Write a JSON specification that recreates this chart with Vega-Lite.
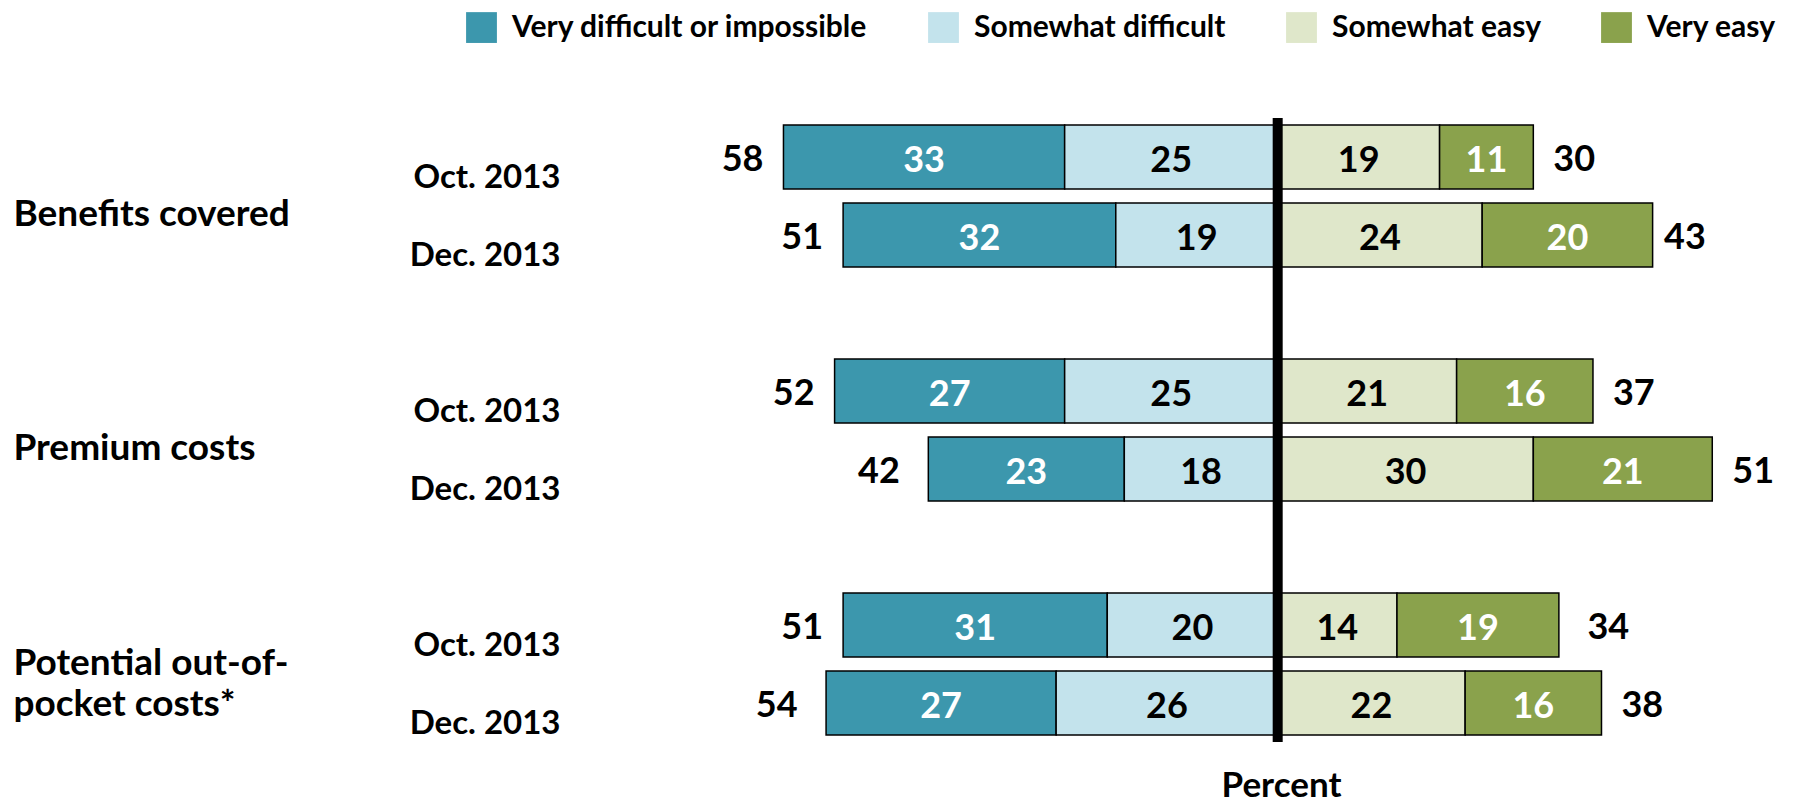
{
  "$schema": "https://vega.github.io/schema/vega-lite/v6.json",
  "width": 1210,
  "height": 624,
  "autosize": {"type": "none"},
  "padding": {"left": 596, "top": 118, "right": 13, "bottom": 61},
  "background": "white",
  "config": {
    "font": "Lato",
    "view": {"stroke": null},
    "axis": {"disable": false, "grid": false}
  },
  "datasets": {
    "segments": [
      {"category": "Benefits covered", "period": "Oct. 2013", "level": "Very difficult or impossible", "pct": 33},
      {"category": "Benefits covered", "period": "Oct. 2013", "level": "Somewhat difficult", "pct": 25},
      {"category": "Benefits covered", "period": "Oct. 2013", "level": "Somewhat easy", "pct": 19},
      {"category": "Benefits covered", "period": "Oct. 2013", "level": "Very easy", "pct": 11},
      {"category": "Benefits covered", "period": "Dec. 2013", "level": "Very difficult or impossible", "pct": 32},
      {"category": "Benefits covered", "period": "Dec. 2013", "level": "Somewhat difficult", "pct": 19},
      {"category": "Benefits covered", "period": "Dec. 2013", "level": "Somewhat easy", "pct": 24},
      {"category": "Benefits covered", "period": "Dec. 2013", "level": "Very easy", "pct": 20},
      {"category": "Premium costs", "period": "Oct. 2013", "level": "Very difficult or impossible", "pct": 27},
      {"category": "Premium costs", "period": "Oct. 2013", "level": "Somewhat difficult", "pct": 25},
      {"category": "Premium costs", "period": "Oct. 2013", "level": "Somewhat easy", "pct": 21},
      {"category": "Premium costs", "period": "Oct. 2013", "level": "Very easy", "pct": 16},
      {"category": "Premium costs", "period": "Dec. 2013", "level": "Very difficult or impossible", "pct": 23},
      {"category": "Premium costs", "period": "Dec. 2013", "level": "Somewhat difficult", "pct": 18},
      {"category": "Premium costs", "period": "Dec. 2013", "level": "Somewhat easy", "pct": 30},
      {"category": "Premium costs", "period": "Dec. 2013", "level": "Very easy", "pct": 21},
      {"category": "Potential out-of-pocket costs*", "period": "Oct. 2013", "level": "Very difficult or impossible", "pct": 31},
      {"category": "Potential out-of-pocket costs*", "period": "Oct. 2013", "level": "Somewhat difficult", "pct": 20},
      {"category": "Potential out-of-pocket costs*", "period": "Oct. 2013", "level": "Somewhat easy", "pct": 14},
      {"category": "Potential out-of-pocket costs*", "period": "Oct. 2013", "level": "Very easy", "pct": 19},
      {"category": "Potential out-of-pocket costs*", "period": "Dec. 2013", "level": "Very difficult or impossible", "pct": 27},
      {"category": "Potential out-of-pocket costs*", "period": "Dec. 2013", "level": "Somewhat difficult", "pct": 26},
      {"category": "Potential out-of-pocket costs*", "period": "Dec. 2013", "level": "Somewhat easy", "pct": 22},
      {"category": "Potential out-of-pocket costs*", "period": "Dec. 2013", "level": "Very easy", "pct": 16}
    ],
    "totals": [
      {"category": "Benefits covered", "period": "Oct. 2013", "side": "difficult", "total": 58},
      {"category": "Benefits covered", "period": "Oct. 2013", "side": "easy", "total": 30},
      {"category": "Benefits covered", "period": "Dec. 2013", "side": "difficult", "total": 51},
      {"category": "Benefits covered", "period": "Dec. 2013", "side": "easy", "total": 43},
      {"category": "Premium costs", "period": "Oct. 2013", "side": "difficult", "total": 52},
      {"category": "Premium costs", "period": "Oct. 2013", "side": "easy", "total": 37},
      {"category": "Premium costs", "period": "Dec. 2013", "side": "difficult", "total": 42},
      {"category": "Premium costs", "period": "Dec. 2013", "side": "easy", "total": 51},
      {"category": "Potential out-of-pocket costs*", "period": "Oct. 2013", "side": "difficult", "total": 51},
      {"category": "Potential out-of-pocket costs*", "period": "Oct. 2013", "side": "easy", "total": 34},
      {"category": "Potential out-of-pocket costs*", "period": "Dec. 2013", "side": "difficult", "total": 54},
      {"category": "Potential out-of-pocket costs*", "period": "Dec. 2013", "side": "easy", "total": 38}
    ]
  },
  "data": {"name": "segments"},
  "transform": [
    {"calculate": "datum.category + '|' + datum.period", "as": "row"},
    {"calculate": "indexof(datum.level, 'difficult') >= 0 ? -datum.pct : datum.pct", "as": "signed"},
    {"stack": "signed", "groupby": ["row"], "sort": [{"field": "level", "order": "ascending"}], "as": ["x0", "x1"]},
    {"calculate": "(datum.x0 + datum.x1) / 2", "as": "mid"}
  ],
  "resolve": {"scale": {"y": "independent"}, "axis": {"y": "independent"}},
  "layer": [
    {
      "mark": {"type": "bar", "stroke": "black", "strokeWidth": 1.5},
      "encoding": {
        "y": {
          "field": "row",
          "type": "nominal",
          "scale": {
            "domain": [
              "Benefits covered|Oct. 2013", "Benefits covered|Dec. 2013", "gap1",
              "Premium costs|Oct. 2013", "Premium costs|Dec. 2013", "gap2",
              "Potential out-of-pocket costs*|Oct. 2013", "Potential out-of-pocket costs*|Dec. 2013"
            ],
            "paddingInner": 0.18,
            "paddingOuter": 0.09
          },
          "axis": {
            "disable": false,
            "orient": "left",
            "title": null,
            "domain": false,
            "ticks": false,
            "labelPadding": 0,
            "offset": 36,
            "labelAlign": "right",
            "labelBaseline": "middle",
            "labelOffset": 21,
            "labelFontSize": 33,
            "labelFontWeight": "bold",
            "labelColor": "black",
            "labelLimit": 400,
            "labelExpr": "indexof(datum.value, '|') < 0 ? '' : substring(datum.value, indexof(datum.value, '|') + 1)"
          }
        },
        "x": {
          "field": "x0",
          "type": "quantitative",
          "scale": {"domain": [-80, 62], "nice": false, "zero": false},
          "axis": {
            "disable": false,
            "title": "Percent",
            "labels": false,
            "ticks": false,
            "domain": false,
            "grid": false,
            "titleFontSize": 35,
            "titleFontWeight": "bold",
            "titleColor": "black",
            "titleX": 685,
            "titleY": 54,
            "titleAlign": "center",
            "titleBaseline": "alphabetic"
          }
        },
        "x2": {"field": "x1"},
        "color": {
          "field": "level",
          "type": "nominal",
          "scale": {
            "domain": ["Very difficult or impossible", "Somewhat difficult", "Somewhat easy", "Very easy"],
            "range": ["#3C97AD", "#C3E3EC", "#DFE7CA", "#8AA24C"]
          },
          "legend": {
            "orient": "none",
            "legendX": -130,
            "legendY": -106,
            "direction": "horizontal",
            "title": null,
            "padding": 0,
            "symbolType": "square",
            "symbolSize": 950,
            "symbolStrokeWidth": 0,
            "labelFontSize": 30,
            "labelFontWeight": "bold",
            "labelColor": "black",
            "labelOffset": 15,
            "labelLimit": 600,
            "columnPadding": 60
          }
        }
      }
    },
    {
      "mark": {"type": "text", "fontSize": 36, "fontWeight": "bold", "baseline": "middle", "align": "center", "dy": 4},
      "encoding": {
        "y": {
          "field": "row",
          "type": "nominal",
          "scale": {
            "domain": [
              "Benefits covered|Oct. 2013", "Benefits covered|Dec. 2013", "gap1",
              "Premium costs|Oct. 2013", "Premium costs|Dec. 2013", "gap2",
              "Potential out-of-pocket costs*|Oct. 2013", "Potential out-of-pocket costs*|Dec. 2013"
            ],
            "paddingInner": 0.18,
            "paddingOuter": 0.09
          },
          "axis": null
        },
        "x": {"field": "mid", "type": "quantitative"},
        "text": {"field": "pct", "type": "quantitative"},
        "color": {
          "condition": {"test": "datum.level === 'Very difficult or impossible' || datum.level === 'Very easy'", "value": "white"},
          "value": "black"
        }
      }
    },
    {
      "data": {"values": [{}]},
      "mark": {"type": "rule", "color": "black", "strokeWidth": 10},
      "encoding": {
        "x": {"datum": 0, "type": "quantitative"}
      }
    },
    {
      "data": {"name": "totals"},
      "transform": [
        {"filter": "datum.side === 'difficult'"},
        {"calculate": "datum.category + '|' + datum.period", "as": "row"},
        {"calculate": "-datum.total", "as": "signed"}
      ],
      "mark": {"type": "text", "fontSize": 36, "fontWeight": "bold", "baseline": "middle", "align": "right", "dx": -20, "dy": 3, "color": "black"},
      "encoding": {
        "y": {
          "field": "row",
          "type": "nominal",
          "scale": {
            "domain": [
              "Benefits covered|Oct. 2013", "Benefits covered|Dec. 2013", "gap1",
              "Premium costs|Oct. 2013", "Premium costs|Dec. 2013", "gap2",
              "Potential out-of-pocket costs*|Oct. 2013", "Potential out-of-pocket costs*|Dec. 2013"
            ],
            "paddingInner": 0.18,
            "paddingOuter": 0.09
          },
          "axis": {
            "disable": false,
            "orient": "left",
            "title": null,
            "domain": false,
            "ticks": false,
            "labelPadding": 0,
            "offset": 583,
            "labelAlign": "left",
            "labelBaseline": "middle",
            "labelOffset": {"condition": {"test": "indexof(datum.value, 'Potential') === 0", "value": 38}, "value": 57},
            "labelFontSize": 37,
            "labelFontWeight": "bold",
            "labelColor": "black",
            "labelLimit": 600,
            "labelLineHeight": 41,
            "labelExpr": "indexof(datum.value, '|Oct.') < 0 ? '' : (indexof(datum.value, 'Potential') === 0 ? ['Potential out-of-', 'pocket costs*'] : substring(datum.value, 0, indexof(datum.value, '|')))"
          }
        },
        "x": {"field": "signed", "type": "quantitative"},
        "text": {"field": "total", "type": "quantitative"}
      }
    },
    {
      "data": {"name": "totals"},
      "transform": [
        {"filter": "datum.side === 'easy'"},
        {"calculate": "datum.category + '|' + datum.period", "as": "row"}
      ],
      "mark": {"type": "text", "fontSize": 36, "fontWeight": "bold", "baseline": "middle", "align": "left", "dx": 20, "dy": 3, "color": "black"},
      "encoding": {
        "y": {
          "field": "row",
          "type": "nominal",
          "scale": {
            "domain": [
              "Benefits covered|Oct. 2013", "Benefits covered|Dec. 2013", "gap1",
              "Premium costs|Oct. 2013", "Premium costs|Dec. 2013", "gap2",
              "Potential out-of-pocket costs*|Oct. 2013", "Potential out-of-pocket costs*|Dec. 2013"
            ],
            "paddingInner": 0.18,
            "paddingOuter": 0.09
          },
          "axis": null
        },
        "x": {"field": "total", "type": "quantitative"},
        "text": {"field": "total", "type": "quantitative"}
      }
    }
  ]
}
